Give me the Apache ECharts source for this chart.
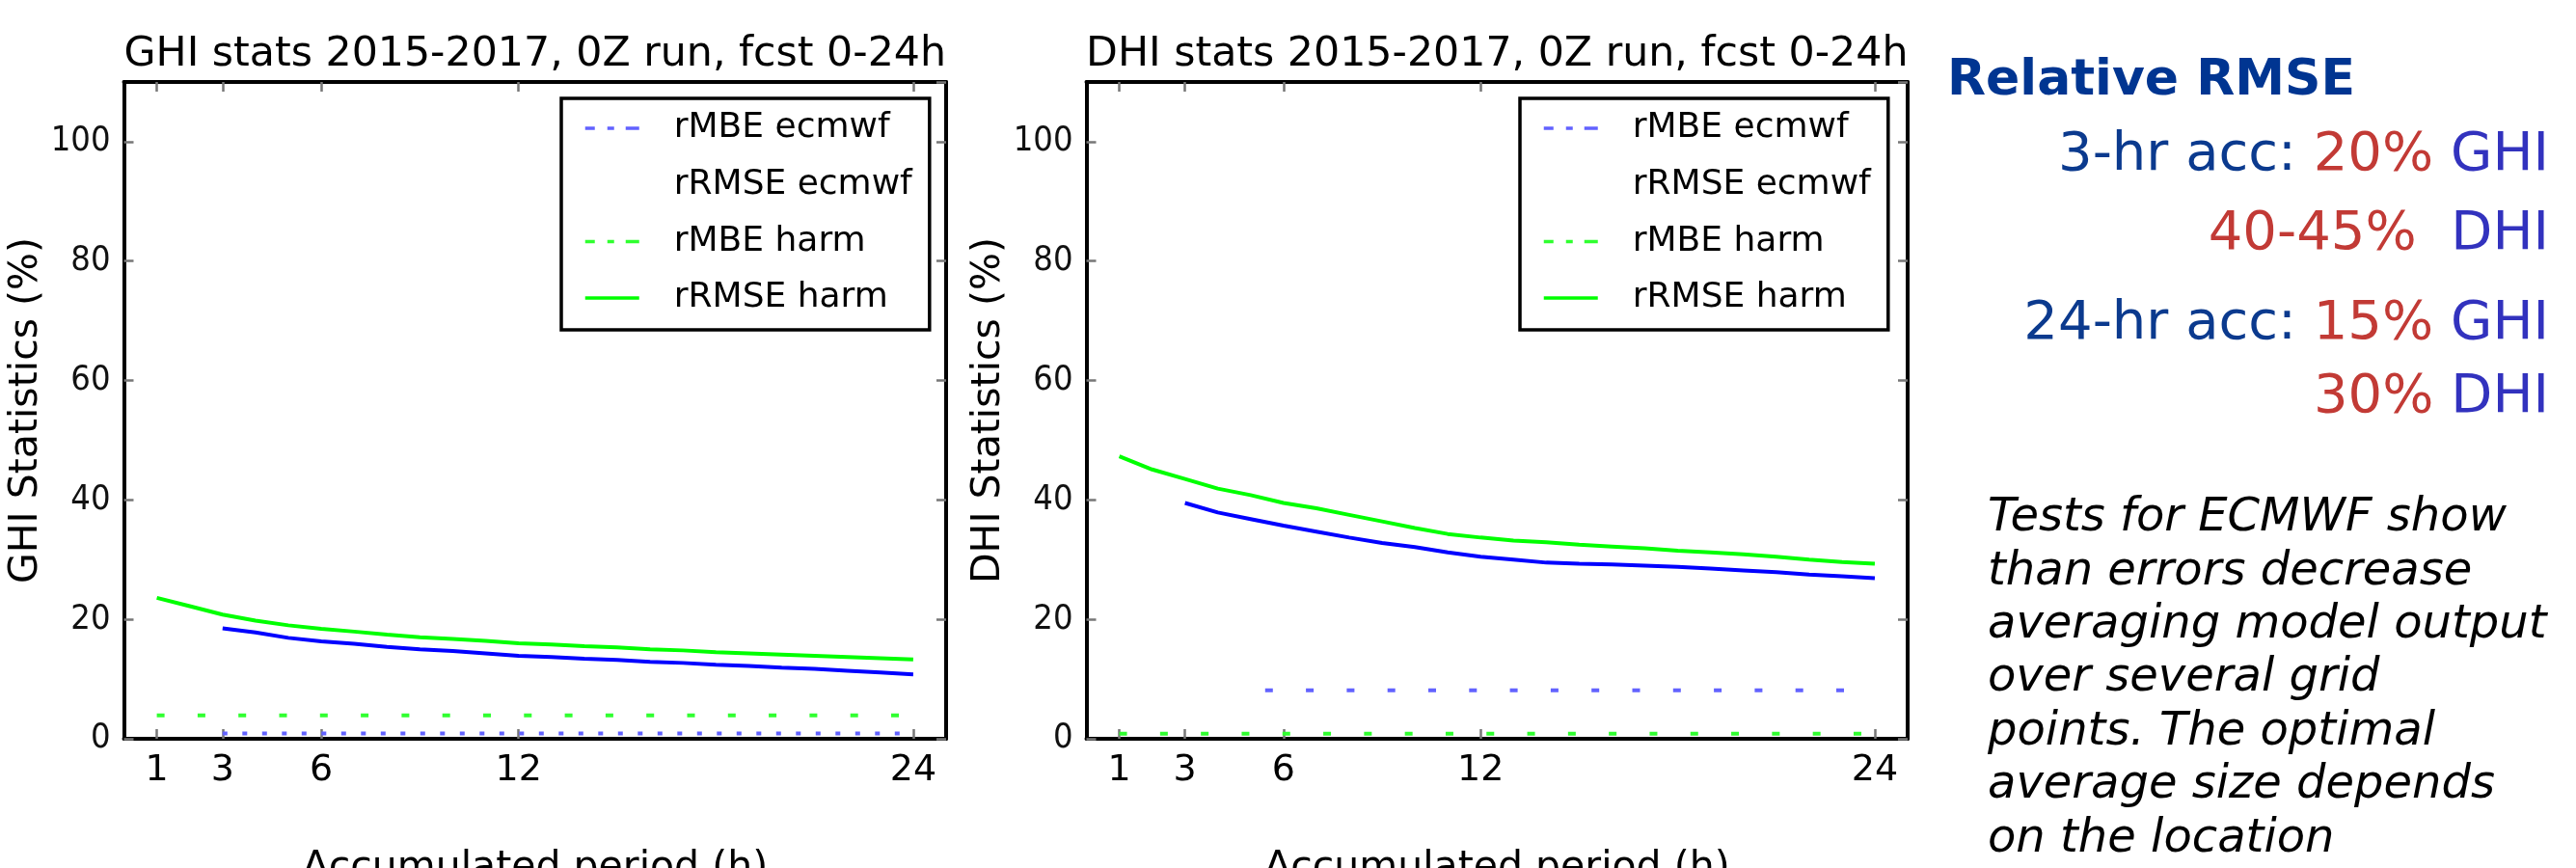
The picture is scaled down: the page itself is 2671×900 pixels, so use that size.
<!DOCTYPE html>
<html>
<head>
<meta charset="utf-8">
<script src="https://cdn.jsdelivr.net/npm/echarts@6/dist/echarts.min.js"></script>
<style>
html,body{margin:0;padding:0;background:#fff;}
#c{width:2671px;height:900px;}
</style>
</head>
<body>
<div id="c"></div>
<script>
// ---------------- data ----------------
const hoursFrom1 = [1,2,3,4,5,6,7,8,9,10,11,12,13,14,15,16,17,18,19,20,21,22,23,24];
const hoursFrom3 = [3,4,5,6,7,8,9,10,11,12,13,14,15,16,17,18,19,20,21,22,23,24];
const hoursFrom5 = [5,6,7,8,9,10,11,12,13,14,15,16,17,18,19,20,21,22,23,24];
const xTickValues = [1, 3, 6, 12, 24];

// GHI panel
const ghiMbeEcmwf  = [0.9,0.9,0.9,0.9,0.9,0.9,0.9,0.9,0.9,0.9,0.9,0.9,0.9,0.9,0.9,0.9,0.9,0.9,0.9,0.9,0.9,0.9]; // hours 3..24
const ghiRmseEcmwf = [18.5,17.8,16.9,16.3,15.9,15.4,15.0,14.7,14.3,13.9,13.7,13.4,13.2,12.9,12.7,12.4,12.2,11.9,11.7,11.4,11.1,10.8]; // hours 3..24
const ghiMbeHarm   = [3.9,3.9,3.9,3.9,3.9,3.9,3.9,3.9,3.9,3.9,3.9,3.9,3.9,3.9,3.9,3.9,3.9,3.9,3.9,3.9,3.9,3.9,3.9,3.9]; // hours 1..24
const ghiRmseHarm  = [23.6,22.2,20.8,19.8,19.0,18.4,17.95,17.45,17.0,16.7,16.4,16.0,15.8,15.5,15.3,15.0,14.8,14.5,14.3,14.1,13.9,13.7,13.5,13.3]; // hours 1..24

// DHI panel
const dhiMbeEcmwf  = [8.1,8.1,8.1,8.1,8.1,8.1,8.1,8.1,8.1,8.1,8.1,8.1,8.1,8.1,8.1,8.1,8.1,8.1,8.1,8.1]; // hours 5..24
const dhiRmseEcmwf = [39.5,37.9,36.8,35.7,34.7,33.7,32.8,32.1,31.2,30.5,30.0,29.5,29.3,29.2,29.0,28.8,28.5,28.2,27.9,27.5,27.2,26.9]; // hours 3..24
const dhiMbeHarm   = [0.85,0.85,0.85,0.85,0.85,0.85,0.85,0.85,0.85,0.85,0.85,0.85,0.85,0.85,0.85,0.85,0.85,0.85,0.85,0.85,0.85,0.85,0.85,0.85]; // hours 1..24
const dhiRmseHarm  = [47.3,45.1,43.5,41.9,40.8,39.5,38.6,37.5,36.4,35.3,34.3,33.7,33.2,32.9,32.5,32.2,31.9,31.5,31.2,30.9,30.5,30.0,29.6,29.3]; // hours 1..24

const seriesNames = ['rMBE ecmwf', 'rRMSE ecmwf', 'rMBE harm', 'rRMSE harm'];
const panelTitles = ['GHI stats 2015-2017, 0Z run, fcst 0-24h', 'DHI stats 2015-2017, 0Z run, fcst 0-24h'];
const yAxisNames = ['GHI Statistics (%)', 'DHI Statistics (%)'];
const xAxisName = 'Accumulated period (h)';

// ---------------- styling ----------------
const FONT = 'DejaVu Sans';
const NARROW = "'Liberation Sans Narrow', 'DejaVu Sans Condensed', 'DejaVu Sans'";
const BLUE = '#0000ff', GREEN = '#00ff00';
const BLUE_D = '#6262ff', GREEN_D = '#30ff30';
const TICK = '#777777';

const grids = [
  {left: 128.5, top: 85, width: 852.5, height: 681, outerBoundsMode: 'none', containLabel: false},
  {left: 1126.5, top: 85, width: 851.5, height: 681, outerBoundsMode: 'none', containLabel: false}
];

function xAx(g, pos) {
  const bottom = pos === 'bottom';
  return {
    type: 'value', gridIndex: g, position: pos, min: 0, max: 25,
    axisLine: {show: true, onZero: false, lineStyle: {color: '#000', width: 4}},
    axisTick: {show: true, inside: true, length: 10, customValues: xTickValues,
               lineStyle: {color: TICK, width: 2.5}},
    axisLabel: bottom ? {show: true, customValues: xTickValues, margin: 14,
               fontSize: 38, fontFamily: FONT, color: '#000'} : {show: false},
    splitLine: {show: false},
    name: bottom ? xAxisName : '',
    nameLocation: 'middle', nameGap: 114,
    nameTextStyle: {fontSize: 41, fontFamily: FONT, color: '#000'}
  };
}
function yAx(g, pos) {
  const left = pos === 'left';
  return {
    type: 'value', gridIndex: g, position: pos, min: 0, max: 110, interval: 20,
    axisLine: {show: true, onZero: false, lineStyle: {color: '#000', width: 4}},
    axisTick: {show: true, inside: true, length: 10, lineStyle: {color: TICK, width: 2.5}},
    axisLabel: left ? {show: true, showMaxLabel: false, margin: 14,
               fontSize: 36, fontFamily: NARROW, color: '#111'} : {show: false},
    splitLine: {show: false},
    name: left ? yAxisNames[g] : '',
    nameLocation: 'middle', nameGap: 81,
    nameTextStyle: {fontSize: 41, fontFamily: FONT, color: '#000'}
  };
}

function line(name, xs, ys, axisIdx, color, dash, extra) {
  const ls = {color: color, width: 4, type: dash || 'solid'};
  if (extra) Object.assign(ls, extra);
  return {
    type: 'line', name: name, xAxisIndex: axisIdx, yAxisIndex: axisIdx,
    symbol: 'none', showSymbol: false, silent: true, z: 3,
    data: xs.map((x, i) => [x, ys[i]]),
    lineStyle: ls, itemStyle: {color: color}
  };
}

const series = [
  // GHI (xAxis 0 / yAxis 0)
  line(seriesNames[0], hoursFrom3, ghiMbeEcmwf, 0, BLUE_D, [5, 15.5]),
  line(seriesNames[1], hoursFrom3, ghiRmseEcmwf, 0, BLUE),
  line(seriesNames[2], hoursFrom1, ghiMbeHarm, 0, GREEN_D, [8, 34.3]),
  line(seriesNames[3], hoursFrom1, ghiRmseHarm, 0, GREEN),
  // DHI (xAxis 2 / yAxis 2)
  line(seriesNames[0], hoursFrom5, dhiMbeEcmwf, 2, BLUE_D, [8, 34.3], {dashOffset: 27.3}),
  line(seriesNames[1], hoursFrom3, dhiRmseEcmwf, 2, BLUE),
  line(seriesNames[2], hoursFrom1, dhiMbeHarm, 2, GREEN_D, [8, 34.3]),
  line(seriesNames[3], hoursFrom1, dhiRmseHarm, 2, GREEN)
];

const legendDash = [10, 13, 7, 12, 14, 200];
function mkLegend(left) {
  return {
    orient: 'vertical', left: left, top: 102,
    padding: [13, 18, 15, 23],
    itemWidth: 56, itemHeight: 14, itemGap: 22.7,
    borderColor: '#000', borderWidth: 3.5, backgroundColor: '#fff',
    selectedMode: false,
    itemStyle: {opacity: 0},
    lineStyle: {width: 3.5},
    textStyle: {fontSize: 36, fontFamily: FONT, color: '#000', padding: [0, 0, 0, 31]},
    data: [
      {name: seriesNames[0], lineStyle: {type: legendDash}},
      {name: seriesNames[1], lineStyle: {color: 'rgba(0,0,0,0)'}},
      {name: seriesNames[2], lineStyle: {type: legendDash}},
      {name: seriesNames[3]}
    ]
  };
}

const NAVY = '#0b3a8e', RED = '#c23a35', VIOLET = '#3232be';
const richStyles = {
  a: {fill: NAVY, fontSize: 56, fontFamily: FONT},
  r: {fill: RED, fontSize: 56, fontFamily: FONT},
  b: {fill: VIOLET, fontSize: 56, fontFamily: FONT}
};
const rmseLines = [
  '{a|3-hr acc: }{r|20%}{b| GHI}',
  '{r|40-45%}{b|  DHI}',
  '{a|24-hr acc: }{r|15%}{b| GHI}',
  '{r|30%}{b| DHI}'
];
const rmseLineY = [161, 243, 336, 412];
const noteText = 'Tests for ECMWF show\nthan errors decrease\naveraging model output\nover several grid\npoints. The optimal\naverage size depends\non the location';

const graphic = [
  {type: 'text', x: 554.75, y: 56.5, style: {text: panelTitles[0], fontSize: 42.7, fontFamily: FONT,
    fill: '#000', align: 'center', verticalAlign: 'middle'}},
  {type: 'text', x: 1552.25, y: 56.5, style: {text: panelTitles[1], fontSize: 42.7, fontFamily: FONT,
    fill: '#000', align: 'center', verticalAlign: 'middle'}},
  {type: 'text', x: 2019, y: 84.5, style: {text: 'Relative RMSE', fontSize: 52, fontWeight: 'bold',
    fontFamily: FONT, fill: '#003591', align: 'left', verticalAlign: 'middle'}},
  {type: 'text', x: 2061, y: 510, style: {text: noteText, fontSize: 48, fontStyle: 'italic',
    fontFamily: FONT, fill: '#000', lineHeight: 55.4, align: 'left', verticalAlign: 'top'}}
];
rmseLines.forEach((t, i) => {
  graphic.push({type: 'text', x: 2643, y: rmseLineY[i], style: {text: t, rich: richStyles,
    align: 'right', verticalAlign: 'middle'}});
});

const chart = echarts.init(document.getElementById('c'), null, {renderer: 'canvas'});
chart.setOption({
  animation: false,
  backgroundColor: '#fff',
  grid: grids,
  xAxis: [xAx(0, 'bottom'), xAx(0, 'top'), xAx(1, 'bottom'), xAx(1, 'top')],
  yAxis: [yAx(0, 'left'), yAx(0, 'right'), yAx(1, 'left'), yAx(1, 'right')],
  legend: [mkLegend(582), mkLegend(1576)],
  series: series,
  graphic: graphic
});
</script>
</body>
</html>
